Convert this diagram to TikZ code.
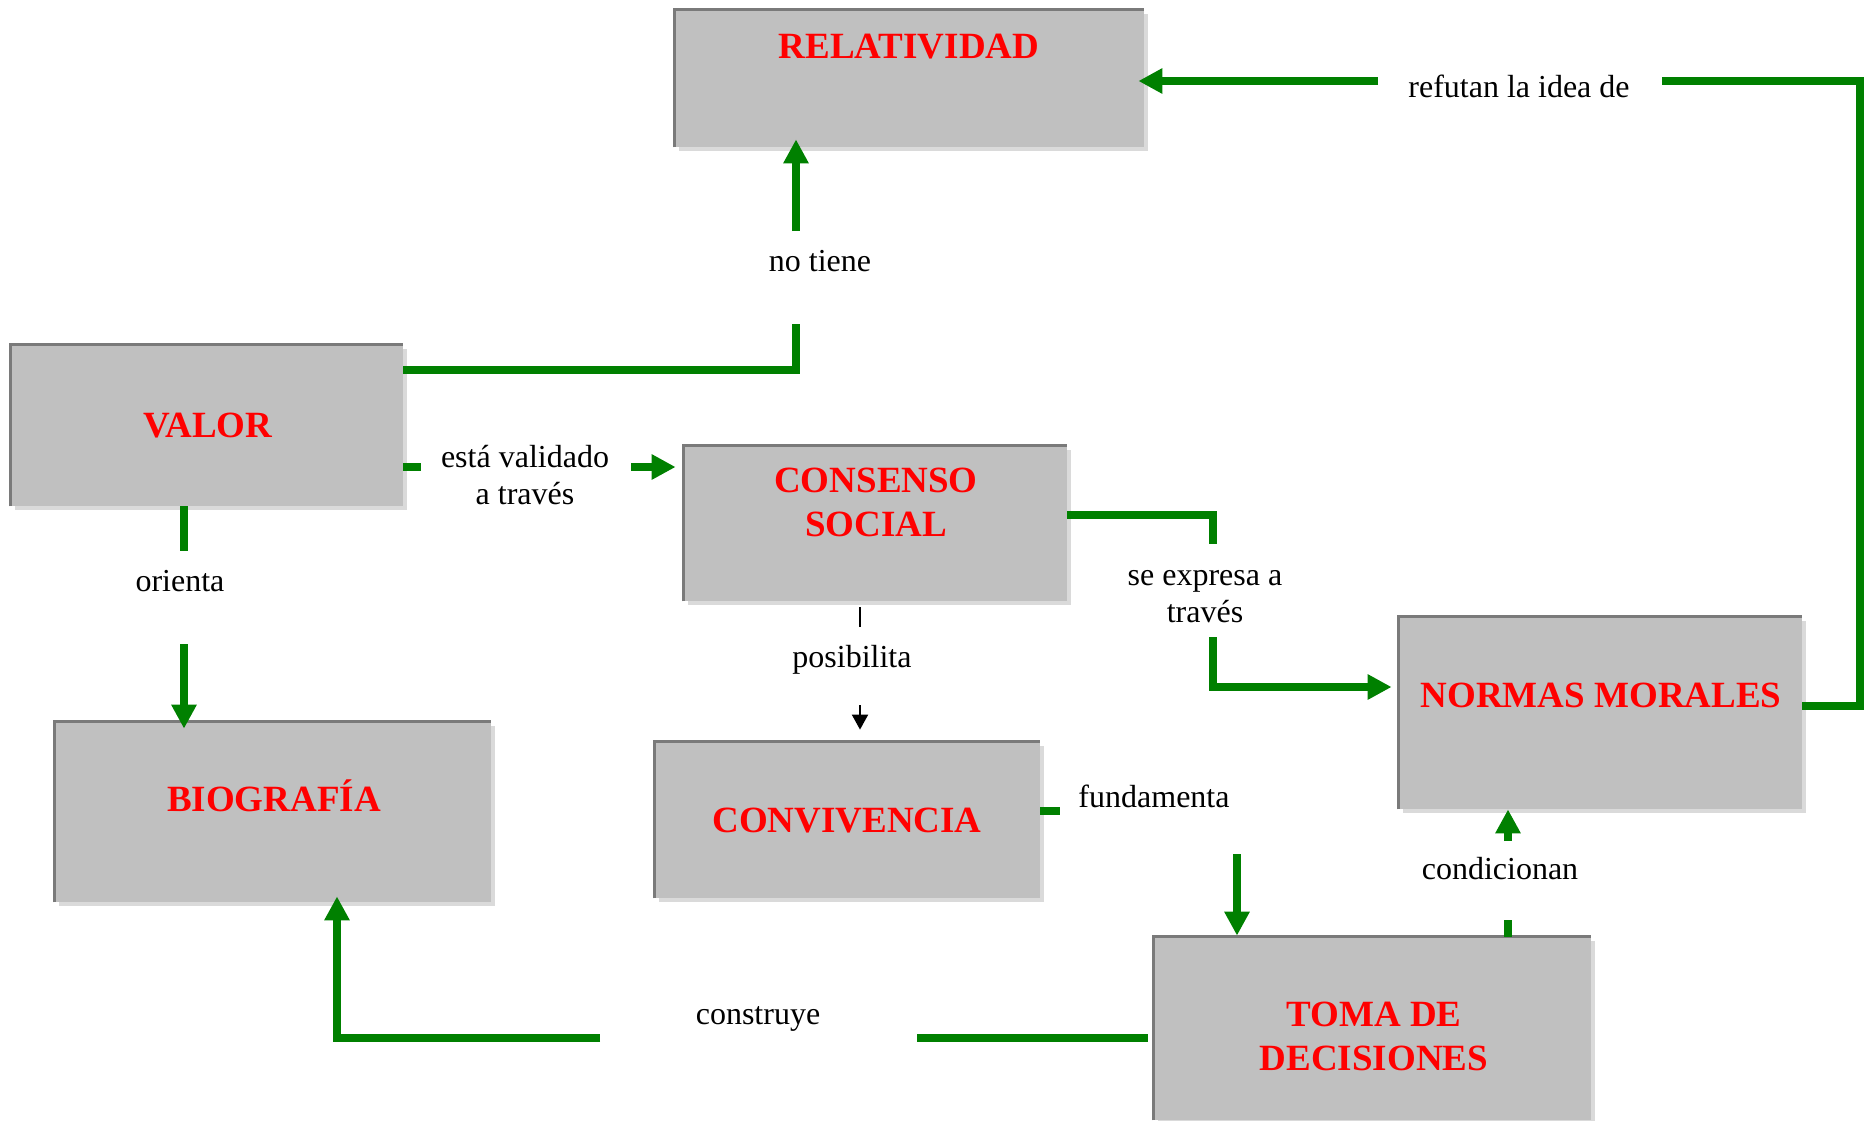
\documentclass[tikz,border=0pt]{standalone}
\usepackage{fontspec}
\setmainfont{Liberation Serif}
\usetikzlibrary{arrows.meta,fit,shadows}
\definecolor{boxgray}{HTML}{C0C0C0}
\definecolor{edgegray}{HTML}{7A7A7A}
\definecolor{shadegray}{HTML}{DADADA}
\definecolor{linkgreen}{HTML}{008000}
\definecolor{titlered}{HTML}{FF0000}
\begin{document}
\begin{tikzpicture}[x=0.5pt,y=-0.5pt,
  box/.style={inner sep=0pt, fill=boxgray, draw=none,
    general shadow={fill=shadegray, shadow xshift=2pt, shadow yshift=-2pt}},
  boxtitle/.style={text=titlered, font=\fontsize{18.5}{22}\selectfont\bfseries, align=center, inner sep=0pt},
  lab/.style={font=\fontsize{16}{18.4}\selectfont, align=center, inner sep=0pt},
  gline/.style={draw=linkgreen, line width=4pt},
  garrow/.style={gline, -{Triangle[length=12pt,width=12pt]}},
  barrow/.style={draw=black, line width=1pt, -{Triangle[length=7.5pt,width=8pt]}},
]
\useasboundingbox (0,0) rectangle (1874,1120);

% boxes
\node[box, fit={(675,10) (1144,147)}] (relat) {};
\node[box, fit={(11,345) (403,506)}] (valor) {};
\node[box, fit={(684,446) (1067,601)}] (consenso) {};
\node[box, fit={(55,722) (491,902)}] (biog) {};
\node[box, fit={(655,742) (1040,898)}] (conviv) {};
\node[box, fit={(1399,617) (1802,809)}] (normas) {};
\node[box, fit={(1154,937) (1591,1120)}] (toma) {};
\foreach \n in {relat,valor,consenso,biog,conviv,normas,toma}
  \draw[edgegray, line width=1.5pt] (\n.south west) -- (\n.north west) -- (\n.north east);

% titles
\node[boxtitle] (trelat) at (909,46.5) {RELATIVIDAD};
\node[boxtitle] (tvalor) at (208,425.5) {VALOR};
\node[boxtitle] (tconsenso) at (876,502) {CONSENSO\\SOCIAL};
\node[boxtitle] (tbiog) at (274,796) {BIOGRAFÍA};
\node[boxtitle] (tconviv) at (847,821) {CONVIVENCIA};
\node[boxtitle] (tnormas) at (1601,695) {NORMAS MORALES};
\node[boxtitle] (ttoma) at (1374,1036) {TOMA DE\\DECISIONES};

% labels
\node[lab] (lnotiene) at (820,261) {no tiene};
\node[lab] (lvalidado) at (525,475) {está validado\\a través};
\node[lab] (lorienta) at (180,581) {orienta};
\node[lab] (lposib) at (852,660) {posibilita};
\node[lab] (lexpresa) at (1205,596.5) {se expresa a\\través};
\node[lab] (lrefutan) at (1519,86) {refutan la idea de};
\node[lab] (lfunda) at (1154,796) {fundamenta};
\node[lab] (lcondi) at (1500,869) {condicionan};
\node[lab] (lconstr) at (758,1019) {construye};

% free ends
\coordinate (a1) at (796,324);
\coordinate (a2) at (796,231);
\coordinate (b1) at (421,467);
\coordinate (b2) at (631,467);
\coordinate (c1) at (184,551);
\coordinate (c2) at (184,644);
\coordinate (d1) at (860,627);
\coordinate (d2) at (860,705);
\coordinate (e1) at (1213,544);
\coordinate (e2) at (1213,637);
\coordinate (f1) at (1662,81);
\coordinate (f2) at (1378,81);
\coordinate (g1) at (1060,811);
\coordinate (g2) at (1237,854);
\coordinate (h1) at (1508,920);
\coordinate (h2) at (1508,841);
\coordinate (i1) at (917,1038);
\coordinate (i2) at (600,1038);

% connectors
\draw[gline] (valor.east |- 0,370) -| (a1);
\draw[garrow] (a2) -- ([yshift=4pt]relat.south -| a2);
\draw[gline] (valor.east |- b1) -- (b1);
\draw[garrow] (b2) -- ([xshift=-4pt]consenso.west |- b2);
\draw[gline] (valor.south -| c1) -- (c1);
\draw[garrow] (c2) -- ([yshift=-3.5pt]biog.north -| c2);
\draw[black, line width=1pt] (consenso.south -| d1) ++(0,6) -- (d1);
\draw[barrow] (d2) -- ([yshift=6pt]conviv.north -| d2);
\draw[gline] (consenso.east |- 0,515) -| (e1);
\draw[garrow] (e2) |- ([xshift=-3.5pt]normas.west |- 0,687);
\draw[gline] (normas.east |- 0,706) -| (1860,81) -- (f1);
\draw[garrow] (f2) -- ([xshift=-3pt]relat.east |- f2);
\draw[gline] (conviv.east |- g1) -- (g1);
\draw[garrow] (g2) -- ([yshift=0.5pt]toma.north -| g2);
\draw[gline] (toma.north -| h1) -- (h1);
\draw[garrow] (h2) -- (normas.south -| h2);
\draw[gline] ([xshift=-3pt]toma.west |- i1) -- (i1);
\draw[garrow] (i2) -| ([yshift=3pt]biog.south -| 337,0);
\end{tikzpicture}
\end{document}
